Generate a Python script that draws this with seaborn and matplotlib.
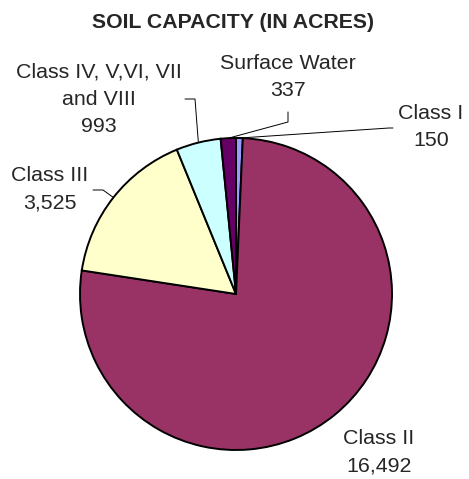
import matplotlib.pyplot as plt
import numpy as np
import seaborn as sns

categories = ["Class I", "Class II", "Class III", "Class IV, V,VI, VII\nand VIII", "Surface Water"]
acres = [150, 16492, 3525, 993, 337]
colors = ["#9999FF", "#993366", "#FFFFCC", "#CCFFFF", "#660066"]

sns.set_style("white")
plt.rcParams["font.family"] = ["Liberation Sans", "DejaVu Sans"]

# pixel geometry of the reference: pie centre and radius
cx, cy, r = 236, 294, 156
W, H = 469, 479


def px(x, y):
    return (x - cx) / r, (cy - y) / r


fig = plt.figure(figsize=(W / 100, H / 100), dpi=100)
ax = fig.add_axes([0, 0, 1, 1])

wedges, _ = ax.pie(
    acres,
    colors=colors,
    startangle=90,
    counterclock=False,
    radius=1,
    wedgeprops={"edgecolor": "black", "linewidth": 1.4},
)

# pie() resets the limits, so set them afterwards
ax.set_xlim(-cx / r, (W - cx) / r)
ax.set_ylim(-(H - cy) / r, cy / r)
ax.set_aspect("equal")
ax.axis("off")

# label block centres and leader-line anchor points (pixels)
label_pos = [(431, 127), (379, 452), (50, 189), (99, 99.5), (288, 77)]
leader_pts = [
    [(393, 128), (389, 128)],
    None,
    [(93, 190), (103, 190)],
    [(185, 99), (195, 99)],
    [(288, 112), (288, 122)],
]

for w, name, val, pos, pts in zip(wedges, categories, acres, label_pos, leader_pts):
    ax.text(*px(*pos), f"{name}\n{val:,}", ha="center", va="center",
            multialignment="center", fontsize=15.4, linespacing=1.55)
    if pts is not None:
        mid = np.deg2rad((w.theta1 + w.theta2) / 2)
        xs = [px(*p)[0] for p in pts] + [np.cos(mid)]
        ys = [px(*p)[1] for p in pts] + [np.sin(mid)]
        ax.plot(xs, ys, color="black", linewidth=0.7)

ax.text(*px(233, 22), "SOIL CAPACITY (IN ACRES)", ha="center", va="center",
        fontsize=15.3, fontweight="bold")

fig.savefig("out.png", dpi=100)
plt.close(fig)
